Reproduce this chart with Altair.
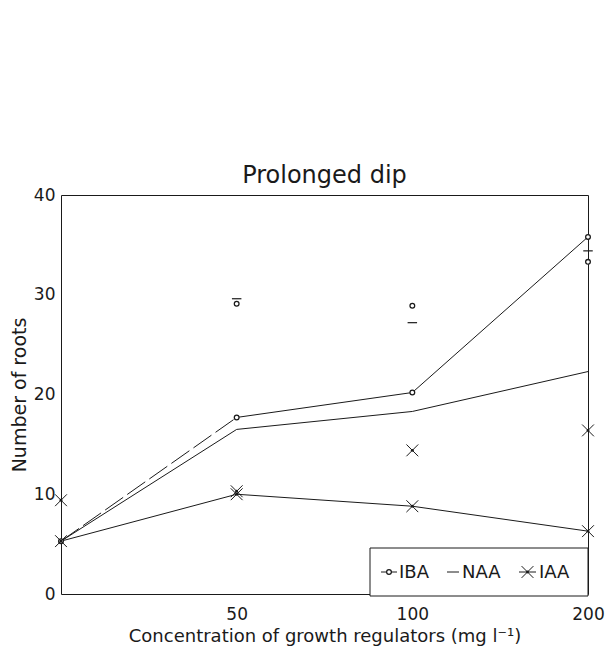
import altair as alt
import pandas as pd

# ---- data ----
conc = ["0", "50", "100", "200"]
iba = [5.3, 17.7, 20.2, 35.8]
naa = [5.3, 16.5, 18.3, 22.3]
iaa = [5.3, 10.0, 8.8, 6.3]
# stray (unconnected) marks visible in the figure
iba_extra = [None, 29.1, 28.9, 33.3]
naa_extra = [None, 29.6, 27.2, 34.4]
iaa_extra = [9.4, 10.3, 14.4, 16.4]
legend_labels = ["IBA", "NAA", "IAA"]

FONT = "DejaVu Sans"
INK = "#1a1a1a"
W, H = 527, 399

lines = pd.DataFrame(
    [{"conc": c, "series": s, "value": v}
     for s, vals in (("IBA", iba), ("NAA", naa), ("IAA", iaa))
     for c, v in zip(conc, vals)]
)
extras = pd.DataFrame(
    [{"conc": c, "series": s, "value": v}
     for s, vals in (("IBA", iba_extra), ("NAA", naa_extra), ("IAA", iaa_extra))
     for c, v in zip(conc, vals) if v is not None]
)

x_enc = alt.X(
    "conc:N",
    sort=conc,
    scale=alt.Scale(type="point", padding=0, domain=conc),
    axis=alt.Axis(
        title="Concentration of growth regulators (mg l\u207b\u00b9)",
        labelExpr="datum.value == '0' ? '' : datum.label",
        labelAngle=0, ticks=False, domain=False, grid=False,
        labelFont=FONT, labelFontSize=17, labelColor=INK, labelPadding=12,
        titleFont=FONT, titleFontSize=18, titleFontWeight="normal", titleColor=INK,
        titleX=W / 2, titleY=42, titleBaseline="middle",
    ),
)
y_enc = alt.Y(
    "value:Q",
    scale=alt.Scale(domain=[0, 40], nice=False, zero=True),
    axis=alt.Axis(
        title="Number of roots", values=[0, 10, 20, 30, 40],
        ticks=False, domain=False, grid=False,
        labelFont=FONT, labelFontSize=17, labelColor=INK, labelPadding=6,
        titleFont=FONT, titleFontSize=19, titleFontWeight="normal", titleColor=INK,
        titleX=-42, titleY=H / 2, titleBaseline="middle",
    ),
)

# IBA: first segment drawn broken (as in the scan), rest solid
iba_df = lines[lines.series == "IBA"]
iba_first = alt.Chart(iba_df[iba_df.conc.isin(["0", "50"])]).mark_line(
    color=INK, strokeWidth=1, strokeDash=[22, 5]
).encode(x=alt.X("conc:N", sort=conc), y="value:Q")
iba_rest = alt.Chart(iba_df[iba_df.conc != "0"]).mark_line(
    color=INK, strokeWidth=1
).encode(x=alt.X("conc:N", sort=conc), y="value:Q")

other_lines = alt.Chart(lines[lines.series != "IBA"]).mark_line(
    color=INK, strokeWidth=1
).encode(x=alt.X("conc:N", sort=conc), y="value:Q", detail="series:N")

CROSS = "M-1,-1L1,1M-1,1L1,-1"
DASH = "M-1,0L1,0"

circ = dict(shape="circle", filled=True, fill="white", stroke=INK, strokeWidth=1.3, size=22)
cross = dict(shape=CROSS, filled=False, stroke=INK, strokeWidth=1, size=140)
dot = dict(shape="circle", filled=True, color=INK, size=8)

def pts(df, **kw):
    return alt.Chart(df).mark_point(opacity=1, **kw).encode(
        x=alt.X("conc:N", sort=conc), y="value:Q")

iba_pts = pts(lines[lines.series == "IBA"], **circ)
iaa_pts = pts(lines[lines.series == "IAA"], **cross)
iaa_dots = pts(lines[lines.series == "IAA"], **dot)

ex_iba = pts(extras[extras.series == "IBA"], **circ)
ex_naa = pts(extras[extras.series == "NAA"], shape=DASH, filled=False, stroke=INK,
             strokeWidth=1.2, size=90)
ex_iaa = pts(extras[extras.series == "IAA"], **cross)
ex_iaa_dots = pts(extras[extras.series == "IAA"], **dot)

# ---- legend box (bottom right, inside plot) ----
one = pd.DataFrame({"label": legend_labels})
LY = 377
leg_box = alt.Chart(one.head(1)).mark_rect(
    fill="white", stroke=INK, strokeWidth=1
).encode(x=alt.value(309), x2=alt.value(W), y=alt.value(353), y2=alt.value(H + 2))

def leg_rule(x1, x2):
    return alt.Chart(one.head(1)).mark_rule(color=INK, strokeWidth=1).encode(
        x=alt.value(x1), x2=alt.value(x2), y=alt.value(LY))

def leg_pt(xv, **kw):
    return alt.Chart(one.head(1)).mark_point(opacity=1, **kw).encode(
        x=alt.value(xv), y=alt.value(LY))

def leg_text(label, xv):
    return alt.Chart(one[one.label == label]).mark_text(
        align="left", baseline="middle", font=FONT, fontSize=18, color=INK
    ).encode(text="label:N", x=alt.value(xv), y=alt.value(LY + 1))

legend = [
    leg_box,
    leg_rule(320, 336), leg_pt(328, **circ), leg_text("IBA", 338),
    leg_rule(386, 398), leg_text("NAA", 401),
    leg_rule(458, 475), leg_pt(466.5, **cross), leg_pt(466.5, **dot), leg_text("IAA", 478),
]

chart = alt.layer(
    iba_first, iba_rest, other_lines,
    iba_pts, iaa_pts, iaa_dots,
    ex_iba, ex_naa, ex_iaa, ex_iaa_dots,
    *legend,
).encode(
    x=x_enc, y=y_enc
).properties(
    width=W, height=H,
    title=alt.Title("Prolonged dip", font=FONT, fontSize=24, fontWeight="normal",
                    color=INK, anchor="middle", offset=9, dy=11),
    autosize=alt.AutoSizeParams(type="none"),
    padding={"left": 61, "top": 195, "right": 18, "bottom": 65},
    background="white",
).configure_view(
    stroke=INK, strokeWidth=1, fill="white"
)

chart.save("out.html", embed_options={"renderer": "svg", "actions": False})
